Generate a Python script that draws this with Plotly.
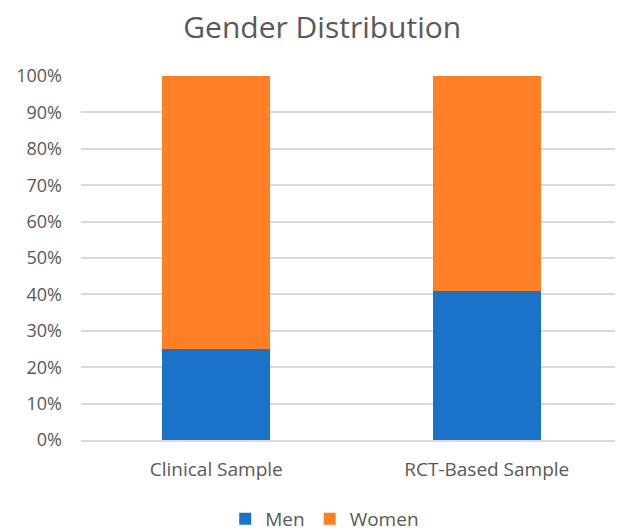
import plotly.graph_objects as go

categories = ["Clinical Sample", "RCT-Based Sample"]
men = [0.25, 0.41]
women = [0.75, 0.59]
tick_vals = [i / 10 for i in range(11)]
tick_text = [f"{i*10}%" for i in range(11)]

fig = go.Figure()
fig.add_trace(go.Bar(name="Men", x=categories, y=men, marker_color="#1a73c8",
                     marker_line_width=0))
fig.add_trace(go.Bar(name="Women", x=categories, y=women, marker_color="#ff7f27",
                     marker_line_width=0))

fig.update_layout(
    barmode="stack",
    bargap=0.6,
    width=615, height=523,
    margin=dict(l=73, r=1, t=68, b=91),
    paper_bgcolor="white", plot_bgcolor="white",
    font=dict(family="Open Sans, Lato, sans-serif", color="#595959", size=17),
    title=dict(text="Gender Distribution", x=0.511, xanchor="center", y=0.962, yanchor="middle",
               font=dict(size=30, color="#595959")),
    legend=dict(orientation="h", xref="container", yref="container",
                x=0.515, xanchor="center", y=0.023, yanchor="middle",
                font=dict(size=19, color="#595959"), traceorder="normal"),
    showlegend=True,
)
fig.update_yaxes(range=[0, 1], tickvals=tick_vals, ticktext=tick_text,
                 showgrid=True, gridcolor="#d9d9d9", gridwidth=1.5,
                 zeroline=False, showline=False, ticks="", ticklen=0,
                 ticklabelstandoff=18, tickfont=dict(size=18))
fig.update_xaxes(showline=True, linecolor="#d9d9d9", linewidth=1.5, ticks="",
                 ticklabelstandoff=11, tickfont=dict(size=19))

fig.write_html("out.html")
